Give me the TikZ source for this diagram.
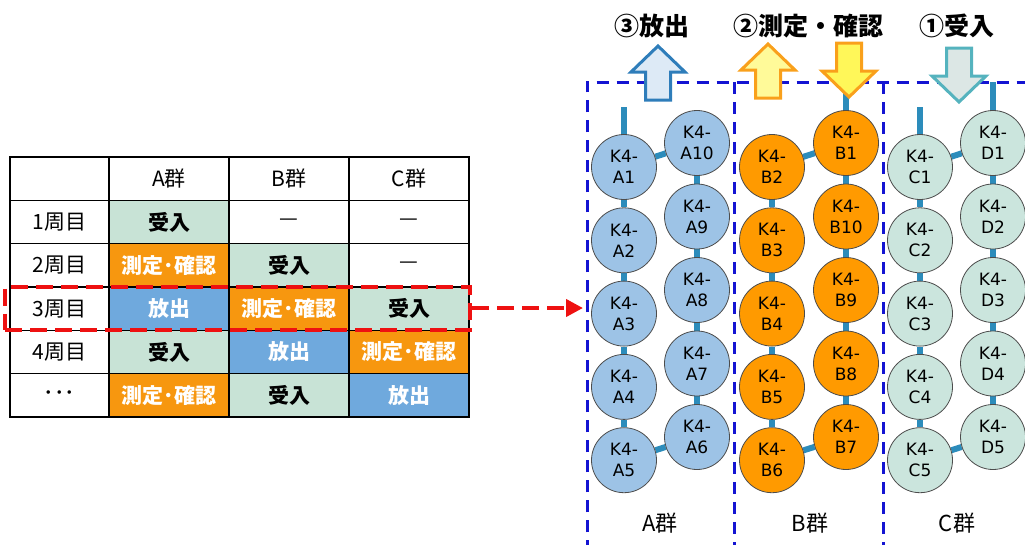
\documentclass[tikz,border=0pt]{standalone}
\usepackage{fontspec}
\setmainfont{Noto Sans CJK JP}
\newfontfamily\kfont{DejaVu Sans}
\usetikzlibrary{arrows.meta,backgrounds}

\definecolor{ukeC}{HTML}{C8E3D6}
\definecolor{sokuC}{HTML}{F7970F}
\definecolor{houC}{HTML}{6FA9DD}
\definecolor{aC}{HTML}{9DC3E6}
\definecolor{bC}{HTML}{FF9A00}
\definecolor{cC}{HTML}{CBE5DD}
\definecolor{pipeC}{HTML}{2C8CBB}
\definecolor{grpC}{HTML}{1414D2}
\definecolor{hiC}{HTML}{EE1111}
\definecolor{outLine}{HTML}{2E7DBA}
\definecolor{outFill}{HTML}{DDEAF6}
\definecolor{measLine}{HTML}{F9A01B}
\definecolor{inLine}{HTML}{55B3BE}
\definecolor{inFill}{HTML}{DCE7E5}

\tikzset{
  cell/.style={draw=black, line width=1.3pt, minimum width=120, minimum height=43.33,
    inner sep=0pt, font=\fontsize{21}{25}\selectfont},
  ukeire/.style={fill=ukeC, font=\fontsize{21}{25}\selectfont\bfseries, execute at begin node=受入},
  sokutei/.style={fill=sokuC, text=white, font=\fontsize{21}{25}\selectfont\bfseries, execute at begin node=測定･確認},
  houshutsu/.style={fill=houC, text=white, font=\fontsize{21}{25}\selectfont\bfseries, execute at begin node=放出},
  blank/.style={execute at begin node=—},
  ball/.style={circle, draw=black!70, line width=0.8pt, minimum size=65, inner sep=0pt,
    align=center, font=\kfont\fontsize{17}{21}\selectfont},
  pipe/.style={pipeC, line width=6pt},
  grpline/.style={grpC, line width=3pt, dash pattern=on 12pt off 8pt},
  hilite/.style={hiC, line width=4pt, dash pattern=on 17pt off 8pt},
  title/.style={font=\fontsize{25}{30}\selectfont\bfseries},
  glabel/.style={font=\fontsize{22}{26}\selectfont},
  blockarrow/.pic={\path[pic actions] (-12.5,0) -- (-12.5,-28) -- (-27,-28) -- (0,-54)
    -- (27,-28) -- (12.5,-28) -- (12.5,0) -- cycle;}
}

\begin{document}
\begin{tikzpicture}[x=1pt, y=-1pt]
\useasboundingbox (0,0) rectangle (1025,544);

% table
\node[cell, minimum width=99] (t-0-0) at (59.5,178.7) {};
\foreach \g [count=\k] in {A,B,C}
  \node[cell] (t-0-\k) at (49+120*\k,178.7) {\g 群};
\foreach \lab/\p/\q/\u [count=\r] in {1周目/ukeire/blank/blank, 2周目/sokutei/ukeire/blank,
    3周目/houshutsu/sokutei/ukeire, 4周目/ukeire/houshutsu/sokutei, ･･･/sokutei/ukeire/houshutsu} {
  \node[cell, minimum width=99] (t-\r-0) at (59.5,178.7+43.33*\r) {\lab};
  \foreach \s [count=\k] in {\p,\q,\u}
    \node[cell, \s] (t-\r-\k) at (49+120*\k,178.7+43.33*\r) {};
}

% selected week
\node[hilite, draw, minimum width=465, minimum height=43, inner sep=0pt] (sel) at (237.5,308) {};

% groups
\node[minimum width=147, minimum height=470, inner sep=0pt, anchor=north west] (gA) at (587,82) {};
\node[minimum width=149, minimum height=470, inner sep=0pt, anchor=north west] (gB) at (734,82) {};
\node[minimum width=160, minimum height=470, inner sep=0pt, anchor=north west] (gC) at (883,82) {};
\draw[grpline] (gA.south west) -- (gA.north west) -- (gC.north east);
\draw[grpline] (gB.north west) -- (gB.south west);
\draw[grpline] (gC.north west) -- (gC.south west);

\draw[hilite, -{Triangle[length=17pt,width=17pt]}] (sel.east) -- ([xshift=-4]gA.west |- sel.east);

% samples
\foreach \n [count=\i] in {A1,A2,A3,A4,A5}
  \node[ball, fill=aC] (\n) at (624,93.7+73.3*\i) {K4-\\\n};
\foreach \n [count=\i] in {A10,A9,A8,A7,A6}
  \node[ball, fill=aC] (\n) at (697,69.5+73.5*\i) {K4-\\\n};
\foreach \n [count=\i] in {B2,B3,B4,B5,B6}
  \node[ball, fill=bC] (\n) at (772,93.7+73.3*\i) {K4-\\\n};
\foreach \n [count=\i] in {B1,B10,B9,B8,B7}
  \node[ball, fill=bC] (\n) at (846,69.5+73.5*\i) {K4-\\\n};
\foreach \n [count=\i] in {C1,C2,C3,C4,C5}
  \node[ball, fill=cC] (\n) at (920,93.7+73.3*\i) {K4-\\\n};
\foreach \n [count=\i] in {D1,D2,D3,D4,D5}
  \node[ball, fill=cC] (\n) at (993,69.5+73.5*\i) {K4-\\\n};

\begin{scope}[on background layer]
\foreach \from/\to in {A1/A2,A2/A3,A3/A4,A4/A5,A5/A6,A6/A7,A7/A8,A8/A9,A9/A10,A10/A1,
    B1/B2,B2/B3,B3/B4,B4/B5,B5/B6,B6/B7,B7/B8,B8/B9,B9/B10,B10/B1,
    C1/C2,C2/C3,C3/C4,C4/C5,C5/D5,D5/D4,D4/D3,D3/D2,D2/D1,D1/C1}
  \draw[pipe] (\from) -- (\to);
\draw[pipe] (A1) -- +(0,-60);
\draw[pipe] (B1) -- +(0,-58);
\draw[pipe] (C1) -- +(0,-60);
\draw[pipe] (D1) -- +(0,-61);
\end{scope}

% flows
\pic[draw=outLine, fill=outFill, line width=3pt] at (658,100) {blockarrow};
\pic[draw=measLine, fill=yellow!40, line width=3pt] at (768,98) {blockarrow};
\pic[draw=measLine, fill=yellow!65, line width=3pt, yscale=-1] at (849,43) {blockarrow};
\pic[draw=inLine, fill=inFill, line width=3pt, yscale=-1] at (959,48) {blockarrow};

\node[title] (tOut) at (652,26) {③放出};
\node[title] (tMeas) at (808,26) {②測定・確認};
\node[title] (tIn) at (957,26) {①受入};

\node[glabel] (lA) at (660,523) {A群};
\node[glabel] (lB) at (810,523) {B群};
\node[glabel] (lC) at (957,523) {C群};
\end{tikzpicture}
\end{document}
